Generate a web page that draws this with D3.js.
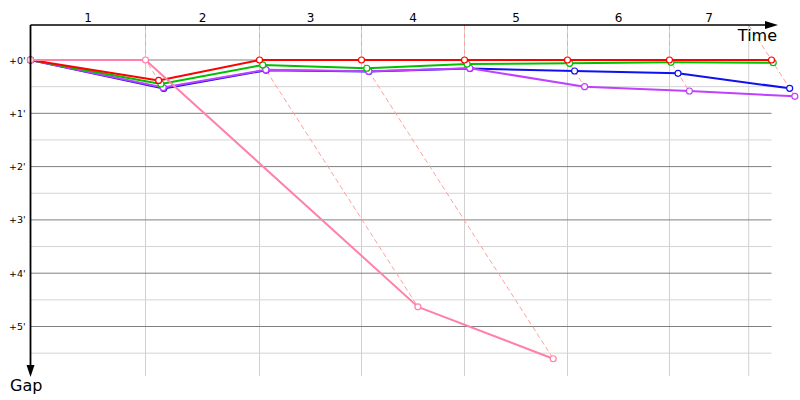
<!DOCTYPE html>
<html><head><meta charset="utf-8">
<script src="https://cdn.jsdelivr.net/npm/d3@7"></script>
<style>body{margin:0;background:#fff}svg{display:block}</style>
</head><body><svg id="c" width="800" height="400"></svg>
<script>
// ---- data (times and gaps in seconds) ----
const raceEnd = 1260;                       // race time limit (21:00)
const leaderTimes = [0, 201.8, 401.8, 580.7, 761.4, 942.1, 1121, 1300]; // leader crossing time per lap
const lapLabels = ["1","2","3","4","5","6","7"];
const gapTicks = [0, 60, 120, 180, 240, 300];
const gapTickLabels = ["+0'", "+1'", "+2'", "+3'", "+4'", "+5'"];
const gapMinor = [30, 90, 150, 210, 270, 330];
const driverNames = ["blue", "purple", "green", "red", "pink"];
const gapsBlue   = [0, 32, 11.5, 13, 9.6, 12.4, 15, 31.9];
const gapsPurple = [0, 31, 11, 12.7, 9.3, 30, 34.9, 40.9];
const gapsGreen  = [0, 27, 5.6, 9.3, 4.5, 3.7, 2.6, 3];
const gapsRed    = [0, 23, 0, 0, 0, 0, 0, 0];
const gapsPink   = [0, 0, 277.9, 336.3];
const colors = ["#1010f0", "#c040ff", "#00c000", "#ff0000", "#ff80a8"];
const series = [gapsBlue, gapsPurple, gapsGreen, gapsRed, gapsPink];

// ---- layout ----
const svg = d3.select("#c");
const x0 = 30.5, axisTop = 25, axisBottom = 376;
const xs = d3.scaleLinear().domain([0, 1300]).range([x0, 771.5]);
const ys = d3.scaleLinear().domain([0, 300]).range([60, 326.5]);
const gridRight = xs(leaderTimes[leaderTimes.length - 1]);

// vertical grid lines: lap boundaries (laps 1..6) + race end
const vTimes = leaderTimes.slice(1, leaderTimes.length - 1).concat([raceEnd]);
svg.append("g").selectAll("line").data(vTimes).join("line")
  .attr("x1", d => xs(d)).attr("x2", d => xs(d))
  .attr("y1", axisTop).attr("y2", axisBottom)
  .attr("stroke", "#d0d0d0").attr("stroke-width", 1);

// horizontal grid
svg.append("g").selectAll("line").data(gapMinor).join("line")
  .attr("x1", x0).attr("x2", gridRight)
  .attr("y1", d => ys(d)).attr("y2", d => ys(d))
  .attr("stroke", "#d4d4d4").attr("stroke-width", 1);
svg.append("g").selectAll("line").data(gapTicks).join("line")
  .attr("x1", x0).attr("x2", gridRight)
  .attr("y1", d => ys(d)).attr("y2", d => ys(d))
  .attr("stroke", "#808080").attr("stroke-width", 1);

// y tick labels
svg.append("g").selectAll("text").data(gapTicks).join("text")
  .attr("x", 9).attr("y", d => ys(d) + 3.5)
  .attr("font-family", "DejaVu Sans, sans-serif").attr("font-size", 9.5)
  .attr("fill", "#000").text((d, i) => gapTickLabels[i]);

// lap labels
const bounds = [0].concat(vTimes);
svg.append("g").selectAll("text").data(lapLabels).join("text")
  .attr("x", (d, i) => (xs(bounds[i]) + xs(bounds[i + 1])) / 2)
  .attr("y", 22).attr("text-anchor", "middle")
  .attr("font-family", "DejaVu Sans, sans-serif").attr("font-size", 12)
  .attr("fill", "#000").text(d => d);

// dashed lap lines
const line = d3.line().x(d => xs(d[0])).y(d => d[1]);
for (let i = 1; i < leaderTimes.length; i++) {
  const L = leaderTimes[i];
  const gaps = series.filter(s => s.length > i).map(s => s[i]);
  const mg = d3.max(gaps);
  const topT = Math.min(L, raceEnd);
  const pts = [[topT, axisTop], [L, ys(0)], [L + mg, ys(mg)]];
  svg.append("path").attr("d", line(pts)).attr("fill", "none")
    .attr("stroke", "#ffa0a0").attr("stroke-width", 1).attr("stroke-dasharray", "5,3");
}

// driver lines
series.forEach((s, k) => {
  const pts = s.map((g, i) => [xs(leaderTimes[i] + g), ys(g)]);
  const g = svg.append("g");
  g.append("path").attr("d", d3.line()(pts)).attr("fill", "none")
    .attr("stroke", colors[k]).attr("stroke-width", 2).attr("stroke-linejoin", "round");
  g.selectAll("circle").data(pts).join("circle")
    .attr("cx", d => d[0]).attr("cy", d => d[1]).attr("r", 3)
    .attr("fill", "#fff").attr("stroke", colors[k]).attr("stroke-width", 1.2);
});

// axes
svg.append("line").attr("x1", x0).attr("x2", 770).attr("y1", axisTop).attr("y2", axisTop)
  .attr("stroke", "#000").attr("stroke-width", 1.5);
svg.append("path").attr("d", `M765,${axisTop-4}L778,${axisTop}L765,${axisTop+4}Z`).attr("fill", "#000");
svg.append("line").attr("x1", x0).attr("x2", x0).attr("y1", axisTop).attr("y2", 368)
  .attr("stroke", "#000").attr("stroke-width", 1.8);
svg.append("path").attr("d", `M${x0-4},365L${x0},377L${x0+4},365Z`).attr("fill", "#000");

svg.append("text").attr("x", 777).attr("y", 41).attr("text-anchor", "end")
  .attr("font-family", "DejaVu Sans, sans-serif").attr("font-size", 16).text("Time");
svg.append("text").attr("x", 10).attr("y", 391)
  .attr("font-family", "DejaVu Sans, sans-serif").attr("font-size", 16).text("Gap");
</script></body></html>
